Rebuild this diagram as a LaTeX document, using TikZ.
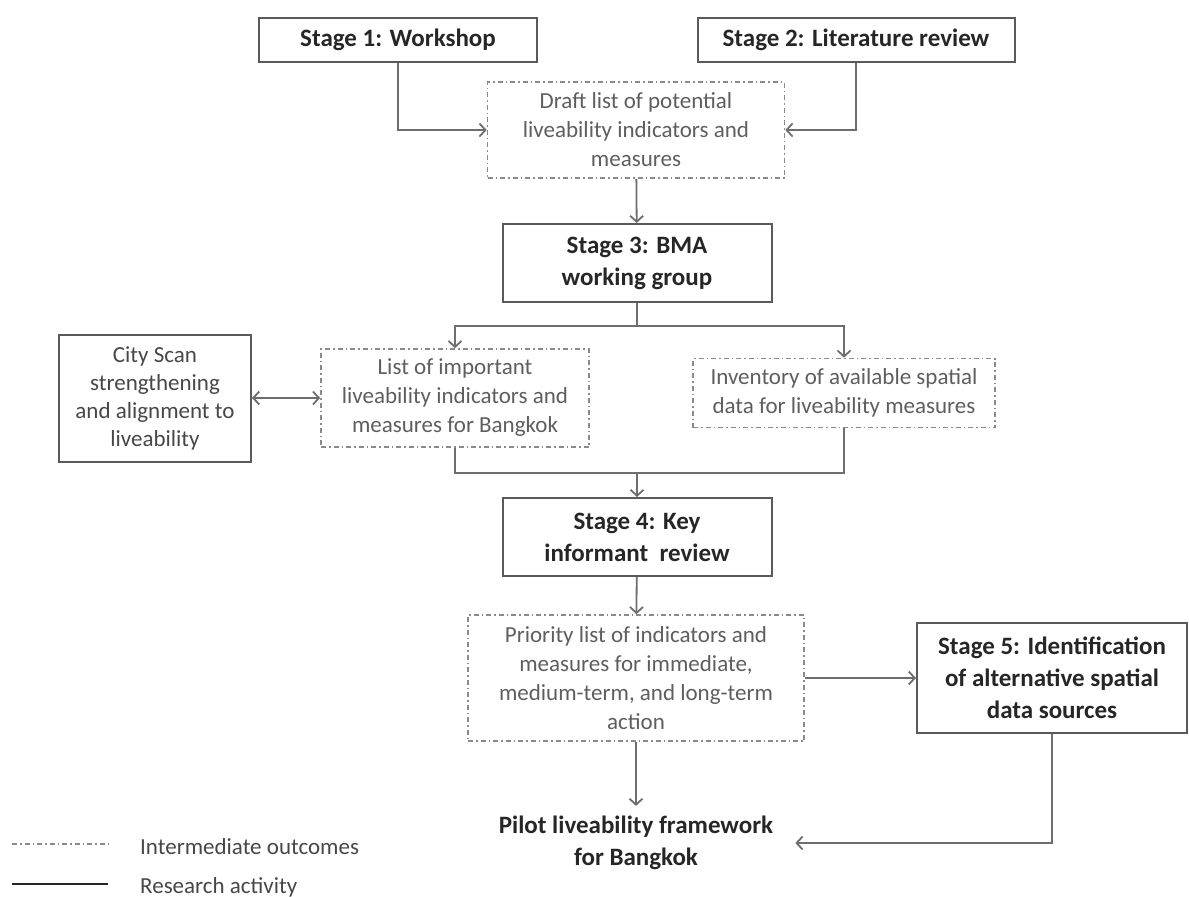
\documentclass[tikz,border=0pt]{standalone}
\usepackage{fontspec}
\setmainfont{Carlito}
\usetikzlibrary{arrows.meta}

\definecolor{boxgray}{HTML}{5A5A5A}
\definecolor{dashgray}{HTML}{8A8A8A}
\definecolor{linegray}{HTML}{6E6E6E}
\definecolor{textdark}{HTML}{262626}
\definecolor{textgray}{HTML}{5E5E5E}

\begin{document}
\begin{tikzpicture}[x=1pt,y=-1pt,
    arr/.style={draw=linegray,line width=1.8pt,-{Straight Barb[length=6pt,width=13pt]}},
    link/.style={draw=linegray,line width=1.8pt},
    dashdot/.style={dash pattern=on 5pt off 3pt on 1.5pt off 3pt}]

  \useasboundingbox (0,0) rectangle (1189,897);

  % research activities
  \begin{scope}[every node/.style={draw=boxgray,line width=2pt,align=center,
      text=textdark,font=\fontsize{25}{32}\selectfont\bfseries,inner sep=0pt}]
    \node[minimum width=278pt,minimum height=44pt] (s1) at (398,40) {Stage 1: Workshop};
    \node[minimum width=317pt,minimum height=44pt] (s2) at (856,40) {Stage 2: Literature review};
    \node[minimum width=269pt,minimum height=78pt] (s3) at (637,263) {Stage 3: BMA\\working group};
    \node[minimum width=269pt,minimum height=78pt] (s4) at (637,537) {Stage 4: Key\\informant\ \ review};
    \node[minimum width=270pt,minimum height=110pt] (s5) at (1052,678) {Stage 5: Identification\\of alternative spatial\\data sources};
  \end{scope}

  \node[draw=boxgray,line width=2pt,align=center,text=textdark!85,
    font=\fontsize{23}{28}\selectfont,inner sep=0pt,
    minimum width=192pt,minimum height=127pt] (city) at (155,398) {City Scan\\strengthening\\and alignment to\\liveability};

  % intermediate outcomes
  \begin{scope}[every node/.style={draw=dashgray,line width=1.6pt,dashdot,align=center,
      text=textgray,font=\fontsize{23}{29}\selectfont,inner sep=0pt}]
    \node[minimum width=297pt,minimum height=96pt] (draft) at (636,130) {Draft list of potential\\liveability indicators and\\measures};
    \node[minimum width=268pt,minimum height=98pt] (list) at (455,398) {List of important\\liveability indicators and\\measures for Bangkok};
    \node[minimum width=302pt,minimum height=69pt] (inv) at (844,393) {Inventory of available spatial\\data for liveability measures};
    \node[minimum width=336pt,minimum height=126pt] (prio) at (636,678) {Priority list of indicators and\\measures for immediate,\\medium-term, and long-term\\action};
  \end{scope}

  \node[align=center,text=textdark,font=\fontsize{25}{32}\selectfont\bfseries,
    inner xsep=22pt,inner ysep=10pt] (pilot) at (636,843) {Pilot liveability framework\\for Bangkok};

  \coordinate (split) at (637,326);
  \coordinate (merge) at (637,473);

  % connectors
  \draw[arr] (s1.south) |- (draft.west);
  \draw[arr] (s2.south) |- (draft.east);
  \draw[arr] (draft) -- (s3);
  \draw[link] (s3.south) -- (split);
  \draw[arr] (split) -| (list.north);
  \draw[arr] (split) -| (inv.north);
  \draw[arr,{Straight Barb[length=6pt,width=13pt]}-{Straight Barb[length=6pt,width=13pt]}] (city) -- (list);
  \draw[link] (list.south) |- (merge);
  \draw[link] (inv.south) |- (merge);
  \draw[arr] (merge) -- (s4);
  \draw[arr] (s4) -- (prio);
  \draw[arr] (prio) -- (s5);
  \draw[arr] (prio) -- (pilot);
  \draw[arr] (s5.south) |- (pilot.east);

  % legend
  \coordinate (la) at (12,844);
  \coordinate (lb) at (108,844);
  \coordinate (lc) at (12,884);
  \coordinate (ld) at (108,884);
  \draw[draw=dashgray,line width=1.6pt,dashdot] (la) -- (lb);
  \draw[draw=textdark,line width=1.6pt] (lc) -- (ld);
  \node[anchor=west,text=textdark!85,font=\fontsize{23}{28}\selectfont,inner sep=0pt] (lt1) at (140,847) {Intermediate outcomes};
  \node[anchor=west,text=textdark!85,font=\fontsize{23}{28}\selectfont,inner sep=0pt] (lt2) at (140,887) {Research activity};

\end{tikzpicture}
\end{document}
